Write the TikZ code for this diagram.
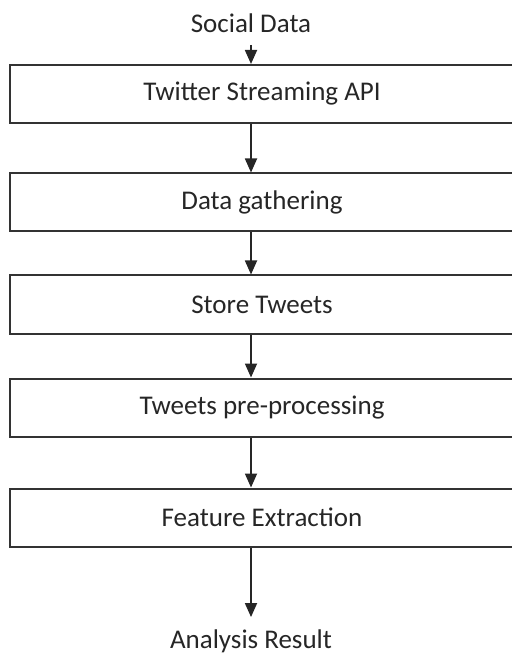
\documentclass[tikz,border=0pt]{standalone}
\usepackage{fontspec}
\setmainfont{Carlito}
\usetikzlibrary{arrows.meta}

\begin{document}
\begin{tikzpicture}[x = 0.5pt, y = -0.5pt,
    every node/.style = {font = \fontsize{13.5}{16}\selectfont, text = black!85},
    stage/.style = {draw = black!80, line width = 1pt, minimum width = 252.25pt, minimum height = 29pt, inner sep = 0pt},
    ends/.style = {inner sep = 6pt},
    flow/.style = {-{Triangle[width = 6pt, length = 7pt]}, line width = 0.9pt, draw = black!85}]
    \useasboundingbox (0, 0) rectangle (512, 657);
    \node [ends] (src) at (251, 23) {Social Data};
    \node [stage] (api) at (262, 94) {Twitter Streaming API};
    \node [stage] (gather) at (262, 202.5) {Data gathering};
    \node [stage] (store) at (262, 304.5) {Store Tweets};
    \node [stage] (prep) at (262, 407.5) {Tweets pre-processing};
    \node [stage] (feat) at (262, 517.5) {Feature Extraction};
    \node [ends] (res) at (251, 641) {Analysis Result};
    \draw [flow] (src) -- (api.north -| src);
    \draw [flow] (api.south -| src) -- (gather.north -| src);
    \draw [flow] (gather.south -| src) -- (store.north -| src);
    \draw [flow] (store.south -| src) -- (prep.north -| src);
    \draw [flow] (prep.south -| src) -- (feat.north -| src);
    \draw [flow] (feat.south -| src) -- (res);
  \end{tikzpicture}
\end{document}
